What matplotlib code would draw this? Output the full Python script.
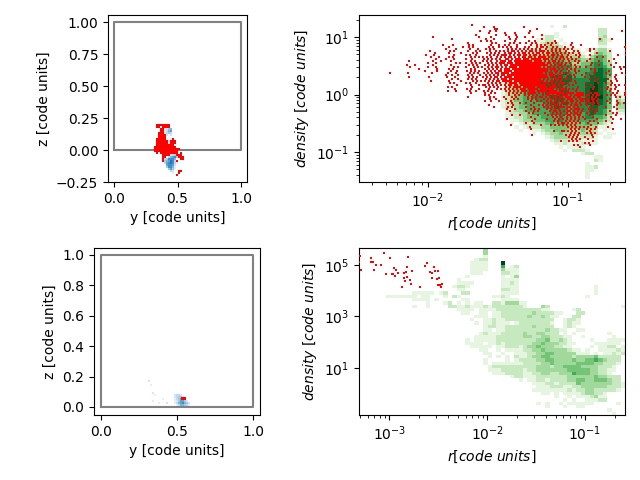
import numpy as np
import matplotlib
matplotlib.use('Agg')
import matplotlib.pyplot as plt
from matplotlib.ticker import NullLocator

def rows(lines):
    return [l.replace(' ', '').replace('_', '.' * 10) for l in lines]

# top-right: green histogram levels, columns 30-59 of 60, rows top to bottom
tr_green = rows([
"_ _ _","_ _ _","_ _ _",
"_ ...1..2... _",
"_ _ ....22....",
"_ ....1..... ....22....",
"_ .1221..... ....23....",
"_ 1122.1.... ....321...",
"_ 12332.1... ....22....",
".........1 113332.1.. ....11....",
".......112 1234433111 .1.2331...",
"......1223 2334544322 1.13432....",
"......1224 3345554333 2134542....",
"......1234 3445554444 3345542....",
".....12334 4455665533 4456643....",
".....12344 5556666644 4556653....",
"....123345 5566666555 5566765....",
"....124455 5666667655 5667765....",
"...1244555 6667776755 5677764....",
"...1244565 6666777766 6677773....",
"..12334566 6777777666 6778764....",
"..12344566 6677776666 6778763....",
"..12344566 6777677666 6788764....",
"..12344566 6676677666 6788765.1..",
"..12344556 6667776666 6788865.21.",
"..12344555 6666776666 6788765.32.",
"..12334555 5567767666 6778764.43.",
"..12234455 5566766566 6677664.33.",
"...1233455 5556666566 6677653.22.",
"...1223345 5556666566 5676653.11.",
"...1122344 4555565555 5665542....",
"....112334 4455565555 5555432....",
"....1.1223 3345455444 4544321....",
".....1.122 2334444444 4433111....",
"......1..1 1233444333 4332.1.....",
".........1 .123343333 33321.11...",
"_ ..12333322 2221.11...",
"_ ...1222222 1111......",
"_ ....112111 2211......",
"_ .....1.111 1.........",
"_ ......1.22 21........",
"_ _ 122.......",
"_ _ ...11........",
"_ _ ...21........",
"_ _ .1.. .........",
"_ _ .112.........",
"_ _ .11 ..........",
"_ _ .1.. ........",
"_ _ .1.. ........",
"_ _ _",
])

# top-right: red particles on a fine raster of the panel
tr_red = rows([
"",
"_ _ _ _ ....#",
"_ _ _ _ _ #....#.... _ #",
"_ _ _ _ _ .....##... _ ......#",
"_ _ _ _ ........#. ...#..#... _ ...#...... _ _ _ .........#",
"_ _ _ _ _ ..#....... #....#.... ..#.......",
"_ _ _ _ ......#... ......#... .#....#... .........#",
"_ _ ....#..... _ .......#.. ...#...... ..#...#... #...#.....",
"_ _ _ ....#..... _ .#...#.... ...#..#... .........# _ _ ........#. ....#",
"_ _ _ _ ........#. .#.#...... #....#.... ..#..#.... .....#.... _ _ _ .....#",
"_ _ _ _ ..#....... ....#.#... ...#.#..#. .#..#.#... ..#.#.#... ....#... _ _ ......#...",
"_ _ .........# ....#..... ..#.#..... ...#...#.. #.#...#... ...#..#.#. #..#...... ...#....#. _ _ ...#......",
"_ _ _ ...#...... #..#.#.... ...#.#..#. #.#.#..#.. .#.#...#.# #.#..#.#.. .#...#.... _ _ .#.....#..",
"_ _ _ .#....#... ...#...#.. .#.#.#.... ..#.#.#.#. #.#.#.#.#. .#..#.#.#. #.#.#..... ...#.#.... _ ....#..#.#",
"_ _ ...#...... ...#.#.... ..#...#.#. ...#..#.#. #.#.##.#.# .#.##.#.## #.#.#.#.#. .#...#.#.. ...#...... ...#...... .#.....#.",
"_ _ .....#.... ..#.....#. ....#.#... .#.#.#.#.. #.##.#.#.# #.#.#.##.# .##.#.#.#. #.#.#..#.. ......#... _ ...#...#.#",
"_ _ .#...#.... .....#.... .#.#..#... ...#.#.#.# ##.#.#.##. ##.#.##.#. #.#.##.#.# ..#...#.#. ...#...... .......#.. .#.....#..",
"_ _ ...#...#.. ..#.#..... ...#.#.#.# .#.#..#.#. #.##.#.#.# #.##.#.### #.#.#.#.## .#.#...#.. ......#..# _ ...#..#...",
"_ _ ......#... .#...#.... .#..#..... #.#.#.#.#. .##.#.###. ###.#####. ###.#.#.#. #.#.#.#... ...#...... .....#.... .....#....",
"_ ..#....... ....#...#. ...#...... ...#.#...# .#.#..#.## #.##.##### ####.####. #.#.##.#.# ..#..#.#.. .#.....#.. ..#....... .#..#.....",
"_ _ ..#...#... ......#.#. .#..#.#.#. ..#.#.#.## #.###.#### ########## #.##.#.#.# .#.#...#.. ....#..... ......#... ...#......",
"_ .#...#.... ....#..... ...#...... ..#.#.#... #.#.#.#.#. ##.####### ########## ##.#.#.##. #..#.#.... ...#...#.. ...#...... ....#.#...",
"_ ...#...... ..#...#... .....#.#.. .#...#.#.# ..#.#.##.# .#.####.## #########. #.##.#.#.# ..#...#.#. .#........ .....#..#. #...#.....",
"_ .......#.. ......#... ..#.#..... ...#.#.... #.#.#.#.#. ###.###### ########## ##.###.#.# .#.#.#.... ...#.#.... ........#. ...#.....",
"_ _ .#.....#.. ....#..#.. ..#.#.#.#. ..#.#.#.## .####.#### ########## ###.#.##.# ...#..#.#. ......#... ...#...... ..#...#...",
"...#...... ..#....... ....#..... ..#...#... ...#.#.#.. #.#.#.##.# ###.###### ########## .#.##.#.#. #.#...#... .#...#.... .#.......# ....#.....",
"_ _ _ .#..#..#.. ..#.#...#. .#.#.#.#.# #.######## ########## ##.###.#.# ...#.#...# ...#...... ...#..#... .#...#....",
"_ ..#...... ...#...... ..#...#... ...#.#.#.. #.#.#.##.# .####.#### ########## ###.#.#.## ..#...#... .#....#... ......#... ...#.#....",
"_ _ _ ....#..#.. ..#.#.#... .#.#.#.#.# ##.####### #########. #.#.#.##.# .#.#...... ...#...#.. ..#...#... .....#....",
"_ _ ...#...... ..#.....#. ....#.#.#. #.#.#.##.# ####.##### ########## .#.##.#.#. ...#.#.... .....#.... ...#..#... ..#.......",
"_ _ _ ...#.#.... .#.#..#... ..#.#.#.#. .#.####.## #########. ###.#.#.## #.#...#... .#.....#.. .#..#..... ....#.....",
"_ _ _ ......#... ...#...#.# #.#.#.#.#. #.##.##.## ########## #.#.##.#.# ..#.#..... ...#...... ...#.#.#.. #.........",
"_ _ _ ..#.#..... ....#..... .#.#.#.#.. .#.#.####. ######.### ##.####.#. .#.....#.. .#...#.... ..#...#... ....#.....",
"_ _ _ .....#.... .#.#...#.. ..#...#.#. #.#.#.#.## #.#####.## #####.#.## #.#.#.#... ....#...#. .#.#.#.... ...#......",
"_ _ _ ..#...#... ...#..#... #.#.#..... .#.#.#.#.# ##.###.### ##.####.#. #.#...#... ..#....... ...#...#.. .#........",
"_ _ _ _ ...#...... #..#.#.... ..#.#.#.#. #.####.#.# .######### .####.#### ...#.##... ....#.#... #...#.#... ...#......",
"_ _ _ _ _ .#.#...... ...#..#.#. .#.#.#.#.. #.##.#.##. ###.#.#### #.##.#.##. ..#.#.#... .#.#...... ...#.#.... .#........",
"_ _ _ _ ..#....... ...#.#.... #...#.#... ..#.#.#.## .#.#.##.## .###.#.##. .#..#.#... ......#.#. ..#.....#. .#..#.....",
"_ _ _ _ _ ...#..#... .#...#.#.. ..#.#.#... #.#.#.#.#. #.###.#.## #.#.##.#.. ...#...... ....#.#... #..#......",
"_ _ _ _ _ #..#...#.. ...#...... ...#..#.#. .#.#.#.#.# .#.##.#.## .##.#.#... .#....#... ..#....#.. .....#....",
"_ _ _ _ _ _ ..#.#...#. .#...#.... #.#.##.#.# #.#.#.#.#. .#.#.#.#.. ...#...#.. #...#..... ...#......",
"_ _ _ _ _ ..#....... ....#..... ...#...#.# .#.#.##.#. .#.#.##.#. .#..#..#.. ......#... ...#.#.... .#........",
"_ _ _ _ _ .....#.... ..#.#..... .#...#.... #.#.#.#.## #.##.#.#.. ...#...... .#...#.... ....#.....",
"_ _ _ _ _ _ .#...#.... ...#.#.#.. .#.#.#.#.. .#.#.###.# ..#.#.#... ......#... ..#...#...",
"_ _ _ _ _ _ ...#...... .#...#.#.. ...#.##.#. #.##.#.#.# ...#..#... ...#...... .....#....",
"_ _ _ _ _ _ _ ..#.#..... #...#.#.#. .#.#.##.#. .#...#.... ....#.#... ...#......",
"_ _ _ _ _ _ ....#...#. .......#.. ..#.#.#.#. #.##.#.##. ...#...... .#....#...",
"_ _ _ _ _ _ _ ...#...... ....#.#.#. .#.#.#.#.# ....#..... ...#......",
"_ _ _ _ _ _ ..#....... ......#... ..#...#.#. #.#.#.#.#. .#.....#.. .....#...#",
"_ _ _ _ _ _ _ ....#..... .....#.#.. .#.#.#.#.. ...#.#.... .#........",
"_ _ _ _ _ _ _ .#...#.... .......#.# #.#.#.#.#. ..#....#.. ....#.....",
"_ _ _ _ _ _ ...#...... ........#. ...#.#.#.# .#.#.#.... ...#......",
"_ _ _ _ _ _ _ ...#...... _ ..#.#.#.#. #.#...#... ..#.......",
"_ _ _ _ _ _ _ ...#...... _ ...#.#.#.. .#.#.#.... ....#.....",
"_ _ _ _ _ _ _ _ .....#...# #.#.#.#... ...#......",
"_ _ _ _ _ _ _ _ _ ...#.#.#.. .#.#.#....",
"_ _ _ _ _ _ _ ....#..... _ .#.#.#.#.. ....#.....",
"_ _ _ _ _ _ _ _ _ ..#.#.#... #...#.....",
"_ _ _ _ _ _ _ _ _ ....#.#.#. ..#.......",
"_ _ _ _ _ _ _ _ ........#. ..#.#.#... ....#.....",
"_ _ _ _ _ _ _ _ _ _ .#.#......",
"_ _ _ _ _ _ _ _ _ .....#.#.. ...#......",
"_ _ _ _ _ _ _ _ _ ........#.",
])
# sub-cell offsets of the raster rows, repeating
tr_row_shift = [0.0, 0.5, 0.25, 0.75, 0.1, 0.6, 0.35, 0.85, 0.2, 0.7, 0.45, 0.95]

# bottom-right: green histogram levels, 60 columns, rows top to bottom
br_green = rows([
"_ _ ........3. _ _ _",
"_ _ ........3. _ _ _",
"_ _ ........1. _ _ _",
"_ _ ......12 2. _ _ _ _",
"_ _ .....111 1. ..9....... _ _",
"_ _ .....111 1. ..5.12.... _ _",
"_ _ .....111 1. ..3111.... _ _",
"_ _ .....111 .. ..2211.... _ _",
"_ _ ....1... .. ..1.13.... _ _",
"_ _ ..1..... .. ..1111.... _ _",
"_ _ ..1111.. .. ..1121.... _ _",
"_ _ .1221... .. ..1111.... _ ...1......",
"_ _ ..11.... .. ..2211.... _ ...1......",
"_ ..11111.12 ...22..... ..1111.... _ ...1......",
"......11 11111.11.. .1.21..... ..1121.... _ ...1......",
"_ ..1111.1.. ...11..... ..1111.... _ _",
"_ .....1...1 2.1.1.11.. 22133311.. _ _",
"_ ..1..1.... 2211211121 22222221.. .3 2....... .........1 _",
"_ _ ..1111.111 12222222 22211.... .1 2....... _",
"_ _ ...11..11. 11222222 23222211.. .2 2....... _",
"_ _ ......1 11 .1122222 23223211.. .2 2....... _",
"_ _ .....1.. 11211222 22222222.. 1221...... .........3 _",
"_ _ ......1. 112111.1 22222221.. 1211...... .........3 _",
"_ _ ........ 122112 22222322 22.. 121....... ........22 _",
"_ _ ........1 1.1122 22222223 2211 ..11...... ........12 _",
"_ _ .......1 2111222 22322332 22.1 .1.......1 .......11 _",
"_ _ ......11 11122222 23322332 2211 ..1......1 ....1...11 _",
"_ _ ....1.11 11122222 22223342 2321 ....1...11 11..1..111 1.....",
"_ _ ....1111 .112122 22223343 3322 11....1111 11.1..1.11 1.....",
"_ _ .....111 11.112 22123343 3322 11....1.11 22.1..1.11 1.....",
"_ _ .......1 1..1.111 12233433 3332 11.1..1111 21.11.111 .....1.",
"_ _ ........1 1..1..11 12233443 3333 111.1.1121 21.1.1.....",
"_ _ .........1 .1.1.2 1123344 3333 3233334222 22.1......",
"_ _ ........1. ...1.1 2222334 4333 3433445432 22........",
"_ _ ........1. 1111111 222233 4333 3344443322 21...... ...1",
"_ _ ......... 1222222 222233 3233 4444333322 21......1 ...1",
"_ _ .........1 1122222 12233 3333 3444443322 11..1.... ...2",
"_ _ _ 1112222 112233 2233 3544433221 ....1...1. 4.33......",
"_ _ _ ....12211 122222 2233 3333433222 .....1..1. 1.33......",
"_ _ _ ......1.1 122122 2233 4433444322 ......1.1. 2..1......",
"_ _ _ .........1 1122122 2243 3333332211 ......1.1. 2.11......",
"_ _ _ ..........1 1122211 2233 3333222 1.......1 2.1.......",
"_ _ _ .........11 1111112 1223 3222221 .........1 1.........",
"_ _ _ ...........1 1.1.11 1123 3221.... _ .1 1.......",
"_ _ _ ..............1 ..1.1 11 2311.... _ 1.........",
"_ _ _ ................ 1.1..1 1122.... _ 1.........",
"_ _ _ _ 1.1 ..1.1111 11.. ...1.1.11 1.........",
"_ _ _ _ ..1 ...1..11 .... _ _",
"_ _ _ _ _ ......1... ...1122 1.1.....",
"_ _ _ _ _ .......1.. ..1.1.2 1.......",
])

# left panels: blue histogram levels and red particles on a fine raster
tl_blue = rows([
"................","................",".....2245.......",".....1356.......",".....2343.......",
"......2.2.......","................","......1.12......","......13........","......221.......",
"................","................","................","................",
"................","........234.....",".......35674....",".....347775.....",".....456873.....",
".....3678731....","......67762.....","......47751.....",".......4641.....","........32......",
".........1......","................",
])
tl_red = rows([
".#######........",".##.####........","...##...........","...##...........","..###...........",
"..####..........","..####..........",".#####...#......",".######.###.....",".######.###.....",
".#########......","###########.....","#############...","############....",".#.#########.#..",
"....####...###..","....##......###.","....#........##.","....#......#....","................",
"................","................","................","............##..","............#...",
"...........#....",
])
bl_blue = rows([
".2....................","......................","..1...................","......................",
"......................","......................","...2..................","....1.........2332....",
"..............23442...","........1.....134652..","...1..........1246642.","......1...2...13567542",
"...............1355431",
])
bl_red_y = [0.530, 0.540, 0.550, 0.530, 0.540, 0.550]
bl_red_z = [0.050, 0.050, 0.050, 0.060, 0.060, 0.060]

br_red_logr = [-3.30,-3.31,-3.29,-3.19,-3.19,-3.17,-3.16,-3.14,-3.09,-3.06,-3.03,-2.99,-2.95,-2.93,-2.96,-2.97,-2.94,-2.91,
               -2.81,-2.82,-2.83,-2.85,-2.77,-2.85,-2.82,-2.84,-2.79,-2.78,-2.87,-2.69,-2.64,-2.62,-2.54,-2.53,-2.50,-2.59,
               -2.56,-2.56,-2.51,-2.49,-2.46,-2.50,-2.48,-2.47]
br_red_logd = [5.36,5.13,4.81,5.27,5.13,5.13,4.81,5.00,5.00,5.48,4.65,5.27,4.88,4.81,4.65,4.65,4.59,4.69,
               5.32,4.92,4.73,4.69,4.77,4.50,4.54,4.38,4.42,4.26,4.15,4.15,4.97,5.08,4.92,4.77,4.77,4.73,
               4.69,4.50,4.46,4.50,4.26,4.23,4.23,4.15]

box_x = [0, 1, 1, 0, 0]
box_y = [0, 0, 1, 1, 0]

def levels(grid, ncols=None):
    n = ncols or max(len(r) for r in grid)
    out = np.zeros((len(grid), n))
    for i, r in enumerate(grid):
        for j, ch in enumerate(r[:n]):
            if ch.isdigit():
                out[i, j] = int(ch)
    return np.ma.masked_equal(out, 0)

fig = plt.figure(figsize=(6.4, 4.8), dpi=100)
def axpx(l, t, r, b):
    return fig.add_axes([l/640, 1-b/480, (r-l)/640, (b-t)/480])

# top-left
a = axpx(108, 15, 247, 182)
g = levels(tl_blue)
st = 2/127
xe = 0.315 + st*np.arange(g.shape[1]+1)
ye = 0.203 - (2/128)*np.arange(g.shape[0]+1)
a.pcolormesh(xe, ye, g, cmap='Blues', vmin=0, vmax=11)
a.plot(box_x, box_y, color='gray', lw=1.5)
rr, cc = [], []
for i, r in enumerate(tl_red):
    for j, ch in enumerate(r):
        if ch == '#':
            rr.append(0.315 + st*(j+.5)); cc.append(0.203 - (2/128)*(i+.5))
a.scatter(rr, cc, s=3.2, marker='s', c='red', linewidths=0, zorder=3)
a.set_xlim(-0.047, 1.047); a.set_ylim(-0.25, 1.055)
a.set_xticks([0, .5, 1]); a.set_yticks([-.25, 0, .25, .5, .75, 1])
a.set_xlabel('y [code units]'); a.set_ylabel('z [code units]')

# bottom-left
a = axpx(94, 248, 260, 415)
g = levels(bl_blue)
st = 2/152
xe = 0.296 + st*np.arange(g.shape[1]+1)
ye = 0.178 - st*np.arange(g.shape[0]+1)
a.pcolormesh(xe, ye, g, cmap='Blues', vmin=0, vmax=11)
a.plot(box_x, box_y, color='gray', lw=1.5)
a.scatter(bl_red_y, bl_red_z, s=2.5, marker='s', c='red', linewidths=0, zorder=3)
a.set_xlim(-0.046, 1.046); a.set_ylim(-0.053, 1.046)
a.set_xticks([0, .5, 1]); a.set_yticks([0, .2, .4, .6, .8, 1])
a.set_xlabel('y [code units]'); a.set_ylabel('z [code units]')

# top-right
a = axpx(359, 15, 625, 182)
g = levels(tr_green, 30)
lx0, lx1, ly1, ly0 = -2.493, -0.593, 1.383, -1.522
xe = 10**np.linspace(lx0, lx1, 61)[30:]
ye = 10**np.linspace(ly1, ly0, 51)[:g.shape[0]+1]
a.pcolormesh(xe, ye, g, cmap='Greens', vmin=0, vmax=8)
rr, cc = [], []
for i, r in enumerate(tr_red):
    sh = tr_row_shift[i % len(tr_row_shift)]
    for j, ch in enumerate(r):
        if ch == '#':
            rr.append(10**(-2.319 + 0.01429*(j+sh))); cc.append(10**(1.238 - 0.03478*i))
a.scatter(rr, cc, s=2.2, marker='s', c='red', linewidths=0, zorder=3)
a.set_xscale('log'); a.set_yscale('log')
a.set_xlim(10**lx0, 10**lx1); a.set_ylim(10**ly0, 10**ly1)
a.set_xlabel(r'$r[code\ units]$'); a.set_ylabel(r'$density\ [code\ units]$')

# bottom-right
a = axpx(359, 248, 625, 415)
g = levels(br_green, 60)
lx0, lx1, ly1, ly0 = -3.311, -0.592, 5.66, -0.825
xe = 10**np.linspace(lx0, lx1, 61)
ye = 10**np.linspace(ly1, ly0, 51)[:g.shape[0]+1]
a.pcolormesh(xe, ye, g, cmap='Greens', vmin=0, vmax=8)
a.scatter(10**np.array(br_red_logr), 10**np.array(br_red_logd), s=2.2, marker='s', c='red', linewidths=0, zorder=3)
a.set_xscale('log'); a.set_yscale('log')
a.set_xlim(10**lx0, 10**lx1); a.set_ylim(10**ly0, 10**ly1)
a.set_yticks([10.0, 1e3, 1e5]); a.yaxis.set_minor_locator(NullLocator())
a.set_xlabel(r'$r[code\ units]$'); a.set_ylabel(r'$density\ [code\ units]$')

fig.savefig('out.png', dpi=100)
